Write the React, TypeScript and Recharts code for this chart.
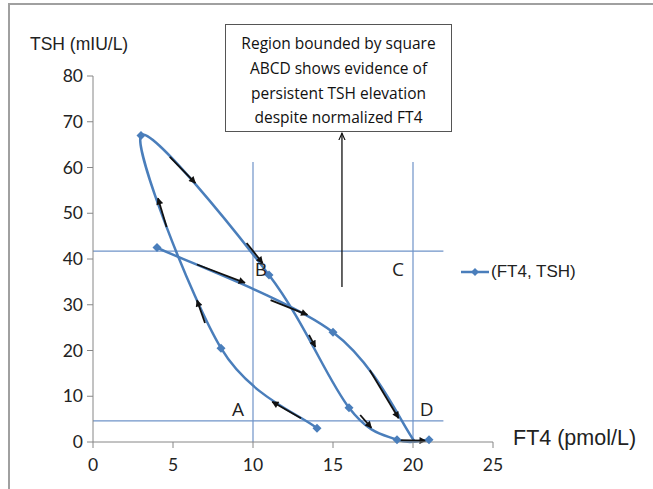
import React from 'react'
import { LineChart, Line, XAxis, YAxis, ReferenceLine, ReferenceDot } from 'recharts'

// main loop (FT4, TSH)
const loopA = [
    { x: 14, y: 3 },
    { x: 8, y: 20.5 },
    { x: 3, y: 67 },
    { x: 11, y: 36.5 },
    { x: 16, y: 7.5 },
    { x: 19, y: 0.5 },
    { x: 21, y: 0.5 },
]
const loopB = [
    { x: 4, y: 42.5 },
    { x: 15, y: 24 },
    { x: 20.1, y: 0.1 },
]

const xTicks = [0, 5, 10, 15, 20, 25]
const yTicks = [0, 10, 20, 30, 40, 50, 60, 70, 80]

// square ABCD bounds
const boxLines = [
    [[10, 0], [10, 61.2]],
    [[20, 0], [20, 61.2]],
    [[0, 41.7], [21.9, 41.7]],
    [[0, 4.6], [21.9, 4.6]],
]
const cornerLabels = [
    { name: 'A', x: 9.06, y: 7.2 },
    { name: 'B', x: 10.5, y: 37.8 },
    { name: 'C', x: 19.06, y: 37.8 },
    { name: 'D', x: 20.85, y: 7.2 },
]

// direction arrows drawn over the curve
const curveArrows = [
    [[4.8, 62.3], [6.4, 56.6]],
    [[9.6, 43.5], [10.6, 39.1]],
    [[6.5, 38.8], [9.5, 34.8]],
    [[11.1, 31], [13.4, 27.8]],
    [[13.5, 23.4], [13.9, 20.8]],
    [[17.3, 15.7], [19.1, 5.2]],
    [[16.7, 5.9], [17.4, 3.1]],
    [[19, 0.4], [20.8, 0.3]],
    [[13, 5.2], [11.2, 8.8]],
    [[7, 26], [6.5, 31]],
    [[4.6, 47], [4.06, 53.3]],
]
const noteArrow = [[15.56, 33.9], [15.56, 67.5]]
const noteLines = ['Region bounded by square', 'ABCD shows evidence of', 'persistent TSH elevation', 'despite normalized FT4']

const BLUE = '#4a7ebb'
const THIN = '#6f93c8'

// Excel-like smoothed line (catmull-rom style bezier)
const excelSmooth: any = (context: any) => {
    let pts: number[][] = []
    return {
        areaStart() {},
        areaEnd() {},
        lineStart() { pts = [] },
        point(x: number, y: number) { pts.push([+x, +y]) },
        lineEnd() {
            const n = pts.length
            if (!n) return
            context.moveTo(pts[0][0], pts[0][1])
            for (let i = 0; i < n - 1; i++) {
                const p0 = pts[Math.max(i - 1, 0)]
                const p1 = pts[i]
                const p2 = pts[i + 1]
                const p3 = pts[Math.min(i + 2, n - 1)]
                context.bezierCurveTo(
                    p1[0] + (p2[0] - p0[0]) / 6, p1[1] + (p2[1] - p0[1]) / 6,
                    p2[0] - (p3[0] - p1[0]) / 6, p2[1] - (p3[1] - p1[1]) / 6,
                    p2[0], p2[1]
                )
            }
        },
    }
}

const diamond = (cx: number, cy: number, r: number) =>
    `M${cx},${cy - r}L${cx + r},${cy}L${cx},${cy + r}L${cx - r},${cy}Z`

const renderDot = (skipLast: number) => (props: any) => {
    const { cx, cy, index } = props
    if (index === skipLast || cx == null) return <g key={`d-${index}`} />
    return <path key={`d-${index}`} d={diamond(cx, cy, 4.5)} fill={BLUE} />
}

const LegendBox = () => (
    <div style={{ position: 'absolute', left: 461, top: 262, display: 'flex', alignItems: 'center', fontFamily: '"Liberation Sans", Arial, sans-serif', fontSize: 17, color: '#222' }}>
        <svg width={28} height={12} style={{ marginRight: 2 }}>
            <line x1={0} y1={6} x2={28} y2={6} stroke={BLUE} strokeWidth={2.5} />
            <path d={diamond(14, 6, 4)} fill={BLUE} />
        </svg>
        (FT4, TSH)
    </div>
)

export default function App() {
    return (
        <div style={{ position: 'absolute', left: 0, top: 0, width: 653, height: 489, background: '#fff', overflow: 'hidden' }}>
            <svg width={0} height={0} style={{ position: 'absolute' }}>
                <defs>
                    <marker id="ah" viewBox="0 0 10 10" refX="9" refY="5" markerWidth="9" markerHeight="7" markerUnits="userSpaceOnUse" orient="auto">
                        <path d="M0,0 L10,5 L0,10 z" fill="#111" />
                    </marker>
                    <marker id="ah2" viewBox="0 0 10 10" refX="9" refY="5" markerWidth="8" markerHeight="8" markerUnits="userSpaceOnUse" orient="auto">
                        <path d="M0,1 L9,5 L0,9" fill="none" stroke="#111" strokeWidth={1.4} />
                    </marker>
                </defs>
            </svg>
            <div style={{ position: 'absolute', left: 8, top: 3, width: 800, height: 800, borderTop: '2px solid #a0a0a0', borderLeft: '2px solid #a0a0a0' }} />
            <LineChart width={653} height={489} margin={{ top: 76, right: 160, bottom: 7, left: 33 }}>
                <XAxis
                    type="number"
                    dataKey="x"
                    domain={[0, 25]}
                    ticks={xTicks}
                    height={40}
                    tickSize={6}
                    tickMargin={11}
                    stroke="#868686"
                    tick={{ fill: '#222', fontSize: 17.5, fontFamily: 'Lato, sans-serif' }}
                />
                <YAxis
                    type="number"
                    domain={[0, 80]}
                    ticks={yTicks}
                    width={60}
                    tickSize={6}
                    tickMargin={4}
                    stroke="#868686"
                    tick={{ fill: '#222', fontSize: 17.5, fontFamily: 'Lato, sans-serif' }}
                />
                {boxLines.map((s, i) => (
                    <ReferenceLine
                        key={`b-${i}`}
                        segment={[{ x: s[0][0], y: s[0][1] }, { x: s[1][0], y: s[1][1] }]}
                        stroke={THIN}
                        strokeWidth={1.2}
                        ifOverflow="visible"
                    />
                ))}
                <Line data={loopA} dataKey="y" name="(FT4, TSH)" type={excelSmooth} stroke={BLUE} strokeWidth={2.5} dot={renderDot(-1)} activeDot={false} isAnimationActive={false} />
                <Line data={loopB} dataKey="y" legendType="none" type={excelSmooth} stroke={BLUE} strokeWidth={2.5} dot={renderDot(loopB.length - 1)} activeDot={false} isAnimationActive={false} />
                {curveArrows.map((s, i) => (
                    <ReferenceLine
                        key={`a-${i}`}
                        segment={[{ x: s[0][0], y: s[0][1] }, { x: s[1][0], y: s[1][1] }]}
                        stroke="#111"
                        strokeWidth={1.8}
                        markerEnd="url(#ah)"
                        ifOverflow="visible"
                    />
                ))}
                <ReferenceLine
                    segment={[{ x: noteArrow[0][0], y: noteArrow[0][1] }, { x: noteArrow[1][0], y: noteArrow[1][1] }]}
                    stroke="#111"
                    strokeWidth={1.3}
                    markerEnd="url(#ah2)"
                    ifOverflow="visible"
                />
                {cornerLabels.map((c) => (
                    <ReferenceDot
                        key={c.name}
                        x={c.x}
                        y={c.y}
                        r={0}
                        stroke="none"
                        ifOverflow="visible"
                        label={{ value: c.name, position: 'center', fill: '#222', fontSize: 19, fontFamily: '"Open Sans", sans-serif' }}
                    />
                ))}
            </LineChart>
            <LegendBox />
            <div style={{ position: 'absolute', left: 30, top: 34, fontFamily: '"Liberation Sans", Arial, sans-serif', fontSize: 17.5, color: '#222' }}>
                TSH (mIU/L)
            </div>
            <div style={{ position: 'absolute', left: 513, top: 426, fontFamily: '"Liberation Sans", Arial, sans-serif', fontSize: 21.5, color: '#222' }}>
                FT4 (pmol/L)
            </div>
            <div
                style={{
                    position: 'absolute', left: 225, top: 24, width: 227, height: 108,
                    border: '1px solid #555', boxSizing: 'border-box', background: '#fff',
                    fontFamily: '"Open Sans", sans-serif', fontSize: 15.5, color: '#111',
                    textAlign: 'center', paddingTop: 6, lineHeight: '24.8px', whiteSpace: 'nowrap',
                }}
            >
                {noteLines.map((t) => <div key={t}>{t}</div>)}
            </div>
        </div>
    )
}
